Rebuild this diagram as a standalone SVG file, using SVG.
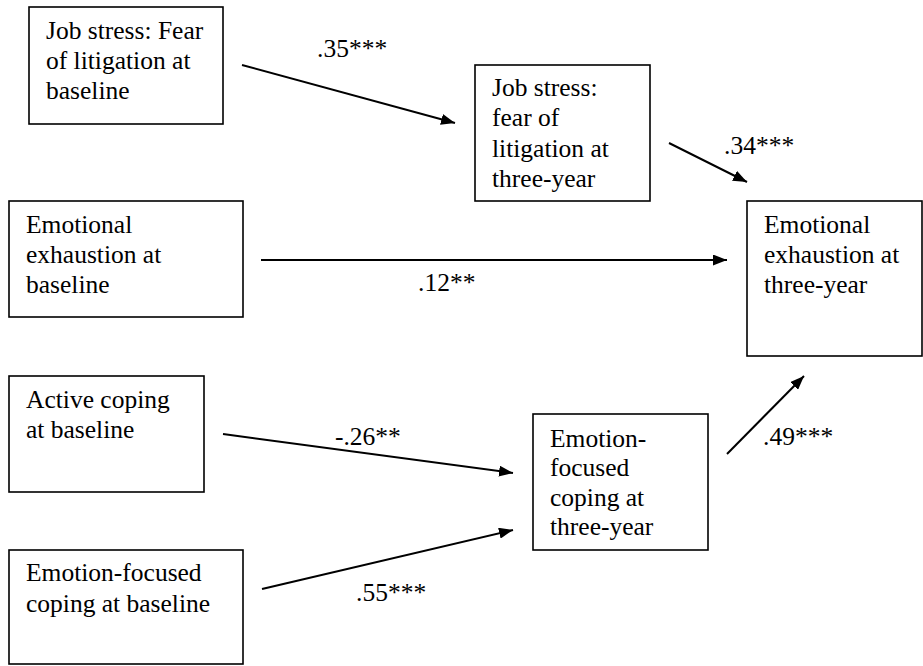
<svg xmlns="http://www.w3.org/2000/svg" width="923" height="666" viewBox="0 0 923 666" font-family="'Liberation Serif', 'DejaVu Serif', serif" font-size="25.5">
<style>
rect.box{fill:#fff;stroke:#000;stroke-width:1.6}
text{fill:#000}
.conn line{stroke:#000;stroke-width:2}
</style>
<defs>
<marker id="ah" markerUnits="userSpaceOnUse" markerWidth="15" markerHeight="11" refX="14" refY="5.5" orient="auto">
<path d="M0,0 L14,5.5 L0,11 z" fill="#000"/>
</marker>
</defs>
<rect width="923" height="666" fill="#fff"/>
<g id="n_js_base">
<rect class="box" x="29" y="7" width="194" height="117"/>
<text x="46" y="39">Job stress: Fear</text>
<text x="46" y="69">of litigation at</text>
<text x="46" y="99">baseline</text>
</g>
<g id="n_js_3y">
<rect class="box" x="475" y="65" width="175" height="136"/>
<text x="492" y="96">Job stress:</text>
<text x="492" y="126">fear of</text>
<text x="492" y="157">litigation at</text>
<text x="492" y="187">three-year</text>
</g>
<g id="n_ee_base">
<rect class="box" x="9" y="201" width="234" height="116"/>
<text x="26" y="233">Emotional</text>
<text x="26" y="263">exhaustion at</text>
<text x="26" y="293">baseline</text>
</g>
<g id="n_ee_3y">
<rect class="box" x="747" y="201" width="175" height="155"/>
<text x="764" y="233">Emotional</text>
<text x="764" y="263">exhaustion at</text>
<text x="764" y="293">three-year</text>
</g>
<g id="n_ac_base">
<rect class="box" x="9" y="376" width="195" height="116"/>
<text x="26" y="408">Active coping</text>
<text x="26" y="438">at baseline</text>
</g>
<g id="n_ef_base">
<rect class="box" x="9" y="550" width="234" height="114"/>
<text x="26" y="581">Emotion-focused</text>
<text x="26" y="612">coping at baseline</text>
</g>
<g id="n_ef_3y">
<rect class="box" x="533" y="414" width="175" height="136"/>
<text x="550" y="447">Emotion-</text>
<text x="550" y="476">focused</text>
<text x="550" y="506">coping at</text>
<text x="550" y="535">three-year</text>
</g>
<g id="connectors" class="conn">
<line x1="242" y1="65" x2="455" y2="123" marker-end="url(#ah)"/>
<line x1="669" y1="143" x2="747" y2="182" marker-end="url(#ah)"/>
<line x1="261" y1="260" x2="727" y2="260" marker-end="url(#ah)"/>
<line x1="223" y1="434" x2="513" y2="473" marker-end="url(#ah)"/>
<line x1="262" y1="589" x2="513" y2="530" marker-end="url(#ah)"/>
<line x1="727" y1="454" x2="804" y2="376" marker-end="url(#ah)"/>
</g>
<g id="labels">
<text x="317" y="57">.35***</text>
<text x="724" y="154">.34***</text>
<text x="418" y="291">.12**</text>
<text x="335" y="445">-.26**</text>
<text x="356" y="601">.55***</text>
<text x="763" y="445">.49***</text>
</g>
</svg>
